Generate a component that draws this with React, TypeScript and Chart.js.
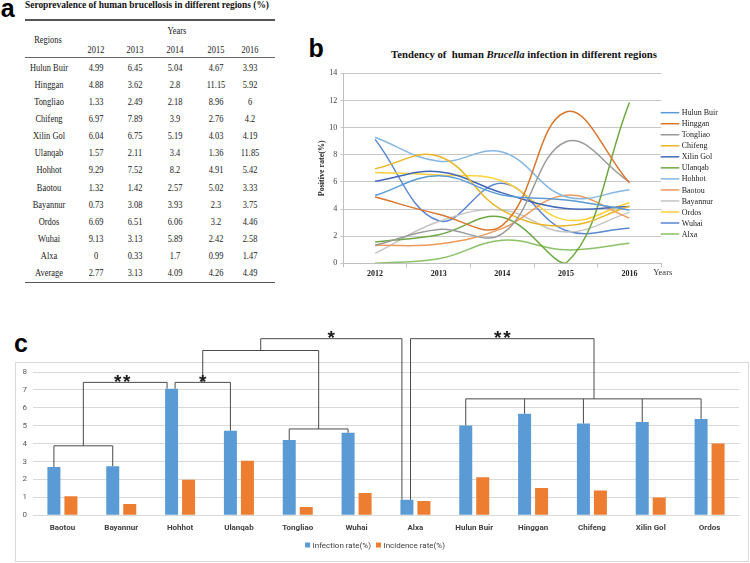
import React, { useEffect, useRef } from "react";
import { Chart, registerables } from "chart.js";

Chart.register(...registerables);

// ---------- Panel a : table ----------
const tableYears = ["2012", "2013", "2014", "2015", "2016"];
const tableRegions = [
  "Hulun Buir", "Hinggan", "Tongliao", "Chifeng", "Xilin Gol", "Ulanqab",
  "Hohhot", "Baotou", "Bayannur", "Ordos", "Wuhai", "Alxa", "Average",
];
const tableValues = [
  ["4.99", "6.45", "5.04", "4.67", "3.93"],
  ["4.88", "3.62", "2.8", "11.15", "5.92"],
  ["1.33", "2.49", "2.18", "8.96", "6"],
  ["6.97", "7.89", "3.9", "2.76", "4.2"],
  ["6.04", "6.75", "5.19", "4.03", "4.19"],
  ["1.57", "2.11", "3.4", "1.36", "11.85"],
  ["9.29", "7.52", "8.2", "4.91", "5.42"],
  ["1.32", "1.42", "2.57", "5.02", "3.33"],
  ["0.73", "3.08", "3.93", "2.3", "3.75"],
  ["6.69", "6.51", "6.06", "3.2", "4.46"],
  ["9.13", "3.13", "5.89", "2.42", "2.58"],
  ["0", "0.33", "1.7", "0.99", "1.47"],
  ["2.77", "3.13", "4.09", "4.26", "4.49"],
];

// ---------- Panel b : trend lines ----------
const trendYears = ["2012", "2013", "2014", "2015", "2016"];
const trendRegions = [
  "Hulun Buir", "Hinggan", "Tongliao", "Chifeng", "Xilin Gol", "Ulanqab",
  "Hohhot", "Baotou", "Bayannur", "Ordos", "Wuhai", "Alxa",
];
const hulunBuir = [4.99, 6.45, 5.04, 4.67, 3.93];
const hinggan = [4.88, 3.62, 2.8, 11.15, 5.92];
const tongliao = [1.33, 2.49, 2.18, 8.96, 6];
const chifeng = [6.97, 7.89, 3.9, 2.76, 4.2];
const xilinGol = [6.04, 6.75, 5.19, 4.03, 4.19];
const ulanqab = [1.57, 2.11, 3.4, 0, 11.85];
const hohhot = [9.29, 7.52, 8.2, 4.91, 5.42];
const baotou = [1.32, 1.42, 2.57, 5.02, 3.33];
const bayannur = [0.73, 3.08, 3.93, 2.3, 3.75];
const ordos = [6.69, 6.51, 6.06, 3.2, 4.46];
const wuhai = [9.13, 3.13, 5.89, 2.42, 2.58];
const alxa = [0, 0.33, 1.7, 0.99, 1.47];
const trendSeries = [
  hulunBuir, hinggan, tongliao, chifeng, xilinGol, ulanqab,
  hohhot, baotou, bayannur, ordos, wuhai, alxa,
];
const trendColors = [
  "#5B9BD5", "#D9772F", "#9A9A9A", "#E9B526", "#4468B8", "#6EA843",
  "#86B6E2", "#EE9A5C", "#C4C4C4", "#FFD23A", "#5B86D2", "#8CC168",
];

// ---------- Panel c : bars ----------
const barCategories = [
  "Baotou", "Bayannur", "Hohhot", "Ulanqab", "Tongliao", "Wuhai",
  "Alxa", "Hulun Buir", "Hinggan", "Chifeng", "Xilin Gol", "Ordos",
];
const infectionRate = [2.69, 2.74, 7.07, 4.72, 4.2, 4.61, 0.87, 5.02, 5.67, 5.13, 5.21, 5.38];
const incidenceRate = [1.07, 0.63, 1.99, 3.04, 0.47, 1.24, 0.8, 2.13, 1.53, 1.38, 0.99, 4.01];
const barSeriesNames = ["Infection rate(%)", "Incidence rate(%)"];
const barColors = ["#5B9BD5", "#ED7D31"];

const SERIF = '"Liberation Serif", "Times New Roman", serif';
const SANS = 'Roboto, "Liberation Sans", sans-serif';

const trendExtras = {
  id: "trendExtras",
  afterDraw(chart: any) {
    const { ctx, chartArea } = chart;
    ctx.save();
    ctx.font = `8px ${SERIF}`;
    ctx.textBaseline = "middle";
    ctx.textAlign = "left";
    chart.data.datasets.forEach((ds: any, i: number) => {
      const y = chartArea.top + 39.4 + i * 11.03;
      ctx.strokeStyle = ds.borderColor;
      ctx.lineWidth = 1.5;
      ctx.beginPath();
      ctx.moveTo(chartArea.right - 0.6, y);
      ctx.lineTo(chartArea.right + 18, y);
      ctx.stroke();
      ctx.fillStyle = "#222";
      ctx.fillText(ds.label, chartArea.right + 20.4, y + 0.5);
    });
    ctx.font = `8.5px ${SERIF}`;
    ctx.fillStyle = "#333";
    ctx.fillText("Years", chartArea.right - 8, chartArea.bottom + 9.7);
    ctx.restore();
  },
};

const bracketPlugin = {
  id: "brackets",
  beforeDraw(chart: any) {
    const ctx = chart.ctx;
    ctx.save();
    ctx.strokeStyle = "#d9d9d9";
    ctx.lineWidth = 1;
    ctx.strokeRect(15.5, 62.5, 733, 199);
    ctx.restore();
  },
  afterDatasetsDraw(chart: any) {
    const ctx = chart.ctx;
    const ys = chart.scales.y;
    const bars = chart.getDatasetMeta(0).data;
    const bx = (i: number) => bars[i].x;
    const by = (i: number) => bars[i].y;
    const Y = (v: number) => ys.getPixelForValue(v);
    ctx.save();
    ctx.strokeStyle = "#4a4a4a";
    ctx.lineWidth = 1;
    const path = (pts: number[][]) => {
      ctx.beginPath();
      ctx.moveTo(pts[0][0], pts[0][1]);
      for (let k = 1; k < pts.length; k++) ctx.lineTo(pts[k][0], pts[k][1]);
      ctx.stroke();
    };
    const yA = Y(3.88);
    path([[bx(0), by(0)], [bx(0), yA], [bx(1), yA], [bx(1), by(1)]]);
    const mA = (bx(0) + bx(1)) / 2;
    const y7 = Y(7.42);
    const hL = bx(2) - 4.5;
    const hR = bx(2) + 3.5;
    path([[mA, yA], [mA, y7], [hL, y7], [hL, by(2)]]);
    path([[hR, by(2)], [hR, y7], [bx(3), y7], [bx(3), by(3)]]);
    const m2 = (hR + bx(3)) / 2;
    const yC = Y(4.82);
    path([[bx(4), by(4)], [bx(4), yC], [bx(5), yC], [bx(5), by(5)]]);
    const mC = (bx(4) + bx(5)) / 2;
    const y9 = Y(9.2);
    path([[m2, y7], [m2, y9], [mC, y9], [mC, yC]]);
    const m3 = (m2 + mC) / 2;
    const yT = Y(9.86);
    const aL = bx(6) - 5;
    const aR = bx(6) + 3.6;
    path([[m3, y9], [m3, yT], [aL, yT], [aL, by(6)]]);
    const yD = Y(6.5);
    path([[bx(7), yD], [bx(11), yD]]);
    for (let i = 7; i <= 11; i++) path([[bx(i), yD], [bx(i), by(i)]]);
    const mD = bx(7) + 0.545 * (bx(11) - bx(7));
    path([[aR, by(6)], [aR, yT], [mD, yT], [mD, yD]]);

    ctx.font = 'bold 19px "Liberation Sans", Arial, sans-serif';
    ctx.fillStyle = "#1a1a1a";
    ctx.textAlign = "center";
    ctx.textBaseline = "alphabetic";
    const stars = (cx: number, cy: number, n: number) => {
      const base = cy + 10.9;
      if (n === 1) ctx.fillText("*", cx, base);
      else {
        ctx.fillText("*", cx - 4.6, base);
        ctx.fillText("*", cx + 4.6, base);
      }
    };
    stars((mA + hL) / 2 - 3, y7 - 5, 2);
    stars(m2, y7 - 5, 1);
    stars((m3 + aL) / 2, yT - 6, 1);
    stars((aR + mD) / 2, yT - 6, 2);

    // legend
    ctx.font = `8px ${SANS}`;
    ctx.textBaseline = "middle";
    ctx.textAlign = "left";
    const names = chart.data.datasets.map((d: any) => d.label);
    const w1 = ctx.measureText(names[0]).width;
    const w2 = ctx.measureText(names[1]).width;
    const sq = 5, gap = 2.5, spacing = 5;
    const total = sq + gap + w1 + spacing + sq + gap + w2;
    let x = (chart.width - total) / 2;
    const ly = 245;
    chart.data.datasets.forEach((d: any, i: number) => {
      ctx.fillStyle = d.backgroundColor;
      ctx.fillRect(x, ly - sq / 2, sq, sq);
      ctx.fillStyle = "#404040";
      ctx.fillText(d.label, x + sq + gap, ly + 0.5);
      x += sq + gap + (i === 0 ? w1 : w2) + spacing;
    });
    ctx.restore();
  },
};

const cellStyle = (x: number, y: number): React.CSSProperties => ({
  position: "absolute",
  left: x,
  top: y,
  transform: "translate(-50%, -50%) scaleX(0.84)",
  whiteSpace: "nowrap",
  fontFamily: SERIF,
  fontSize: 10,
  lineHeight: "12px",
  color: "#1a1a1a",
});

const colX = [96, 135, 175, 216, 250];

export default function App() {
  const bRef = useRef<HTMLCanvasElement>(null);
  const cRef = useRef<HTMLCanvasElement>(null);

  useEffect(() => {
    const chartB = new Chart(bRef.current!, {
      type: "line",
      data: {
        labels: trendYears,
        datasets: trendRegions.map((name, i) => ({
          label: name,
          data: trendSeries[i],
          borderColor: trendColors[i],
          backgroundColor: trendColors[i],
          borderWidth: 1.5,
          pointRadius: 0,
          tension: 0.4,
          fill: false,
        })),
      },
      options: {
        animation: false,
        responsive: false,
        maintainAspectRatio: false,
        layout: { padding: { left: 0, right: 88.7, top: 43.3, bottom: 0 } },
        plugins: { legend: { display: false }, tooltip: { enabled: false } },
        scales: {
          x: {
            type: "category",
            offset: true,
            grid: { offset: true, drawOnChartArea: false, drawTicks: true, tickLength: 4, color: "#bfbfbf" },
            border: { display: true, color: "#bfbfbf" },
            ticks: { font: { family: SERIF, size: 8, weight: "bold" }, color: "#222", padding: 2, maxRotation: 0 },
            afterFit: (s: any) => { s.height = 26.7; },
          },
          y: {
            min: 0,
            max: 14,
            ticks: { stepSize: 2, font: { family: SERIF, size: 8 }, color: "#404040", padding: 3 },
            grid: { color: "#c8c8c8", tickLength: 3 },
            border: { display: true, color: "#bfbfbf" },
            title: {
              display: true,
              text: "Positive rate(%)",
              font: { family: SERIF, size: 8, weight: "bold" },
              color: "#222",
              padding: { top: 47, bottom: 0 },
            },
            afterFit: (s: any) => { s.width = 73.3; },
          },
        },
      } as any,
      plugins: [trendExtras],
    });

    const chartC = new Chart(cRef.current!, {
      type: "bar",
      data: {
        labels: barCategories,
        datasets: [
          { label: barSeriesNames[0], data: infectionRate, backgroundColor: barColors[0] },
          { label: barSeriesNames[1], data: incidenceRate, backgroundColor: barColors[1] },
        ],
      },
      options: {
        animation: false,
        responsive: false,
        maintainAspectRatio: false,
        layout: { padding: { left: 0, right: 11, top: 72, bottom: 0 } },
        plugins: { legend: { display: false }, tooltip: { enabled: false } },
        datasets: { bar: { categoryPercentage: 0.578, barPercentage: 0.765 } },
        scales: {
          x: {
            grid: { display: false, drawTicks: false },
            border: { display: false },
            ticks: { font: { family: SANS, size: 8, weight: "bold" }, color: "#404040", padding: 8, autoSkip: false, maxRotation: 0 },
            afterFit: (s: any) => { s.height = 47.7; },
          },
          y: {
            min: 0,
            max: 8,
            ticks: { stepSize: 1, font: { family: SANS, size: 8 }, color: "#595959", padding: 6 },
            grid: { color: "#d9d9d9", drawTicks: false },
            border: { display: false },
            afterFit: (s: any) => { s.width = 33; },
          },
        },
      } as any,
      plugins: [bracketPlugin],
    });

    return () => {
      chartB.destroy();
      chartC.destroy();
    };
  }, []);

  const rowY = (r: number) => 67.7 + r * 17.13;

  return (
    <div style={{ position: "fixed", left: 0, top: 0, width: 750, height: 563, background: "#fff", overflow: "hidden" }}>
      {/* panel labels */}
      <div style={{ position: "absolute", left: 0.7, top: -4.5, fontFamily: '"Liberation Sans", Arial, sans-serif', fontWeight: "bold", fontSize: 25, lineHeight: 1 }}>a</div>
      <div style={{ position: "absolute", left: 308.5, top: 35.5, fontFamily: '"Liberation Sans", Arial, sans-serif', fontWeight: "bold", fontSize: 25, lineHeight: 1 }}>b</div>
      <div style={{ position: "absolute", left: 14, top: 331, fontFamily: '"Liberation Sans", Arial, sans-serif', fontWeight: "bold", fontSize: 25, lineHeight: 1 }}>c</div>

      {/* table */}
      <div style={{ position: "absolute", left: 25, top: 5, transform: "translateY(-50%) scaleX(0.94)", transformOrigin: "left center", whiteSpace: "nowrap", fontFamily: SERIF, fontWeight: "bold", fontSize: 10, lineHeight: "12px", color: "#111" }}>
        Seroprevalence of human brucellosis in different regions (%)
      </div>
      <div style={{ position: "absolute", left: 25, top: 19.3, width: 250, height: 1.5, background: "#555" }} />
      <div style={{ position: "absolute", left: 25, top: 56.8, width: 250, height: 1, background: "#666" }} />
      <div style={{ position: "absolute", left: 25, top: 281.7, width: 250, height: 1.5, background: "#555" }} />
      <div style={cellStyle(177, 30.7)}>Years</div>
      <div style={cellStyle(48, 40)}>Regions</div>
      {tableYears.map((y, j) => (
        <div key={"y" + j} style={cellStyle(colX[j], 50)}>{y}</div>
      ))}
      {tableRegions.map((name, r) => (
        <React.Fragment key={"r" + r}>
          <div style={cellStyle(49, rowY(r))}>{name}</div>
          {tableValues[r].map((v, j) => (
            <div key={"v" + r + "-" + j} style={cellStyle(colX[j], rowY(r))}>{v}</div>
          ))}
        </React.Fragment>
      ))}

      {/* panel b */}
      <div style={{ position: "absolute", left: 524, top: 55, transform: "translate(-50%, -50%) scaleX(1.02)", whiteSpace: "pre", fontFamily: SERIF, fontWeight: "bold", fontSize: 10.5, lineHeight: "12px", color: "#111" }}>
        {"Tendency of  human "}<i>Brucella</i>{" infection in different regions"}
      </div>
      <canvas ref={bRef} width={480} height={260} style={{ position: "absolute", left: 270, top: 30, width: 480, height: 260 }} />

      {/* panel c */}
      <canvas ref={cRef} width={750} height={263} style={{ position: "absolute", left: 0, top: 300, width: 750, height: 263 }} />
    </div>
  );
}
